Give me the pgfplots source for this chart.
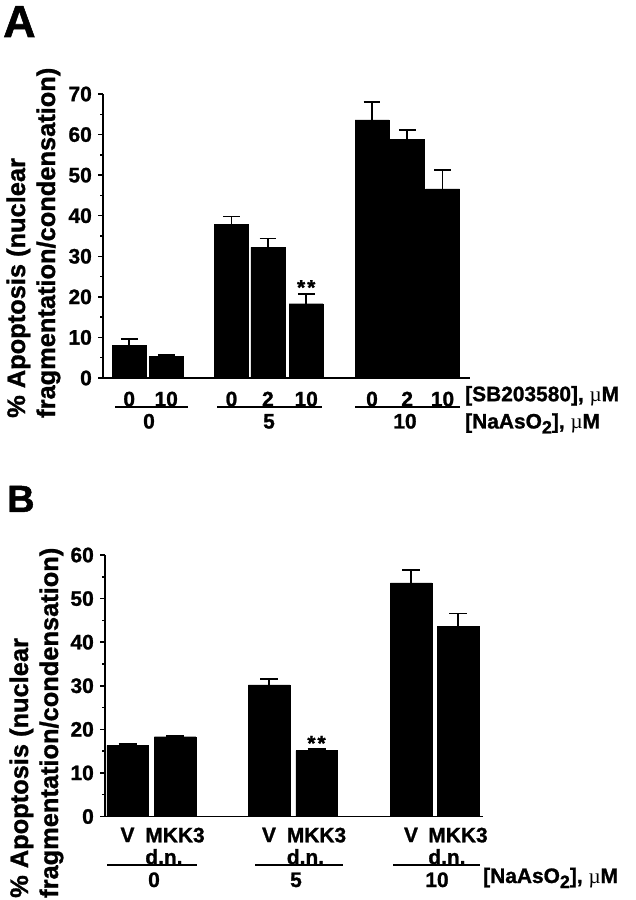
\documentclass[border=0pt]{standalone}
\usepackage{fontspec}
\setmainfont{Liberation Sans}[BoldFeatures={FakeBold=1.2}]
\newfontfamily\mufont{Liberation Serif}
\usepackage{pgfplots}
\pgfplotsset{compat=1.18}

\newcommand{\fs}[1]{\fontsize{#1}{#1}\selectfont}
\newcommand{\um}{{\mufont\mdseries µ}M}
\newcommand{\naaso}{[NaAsO\raisebox{-5bp}{\fs{18}2}], \um}

\tikzset{lbl/.style={font=\bfseries\fs{21}, inner sep=0pt}}
\pgfplotsset{
  apopt/.style={
    scale only axis, axis lines=left, axis line style={line width=1.8bp, -},
    xmin=0, ymin=0, clip=false,
    tick align=outside, ytick pos=left,
    major tick length=5bp, minor tick length=3bp,
    every tick/.style={black, line width=1.5bp},
    minor y tick num=1,
    xtick style={draw=none},
    /pgf/number format/assume math mode=true,
    yticklabel style={font=\bfseries\fs{21}, inner sep=0pt, xshift=-6bp},
    xticklabel style={font=\bfseries\fontsize{21}{22}\selectfont, inner sep=0pt,
      anchor=north, align=left},
  },
}

\begin{document}
\begin{tikzpicture}
\useasboundingbox (0,0) rectangle (636bp,900bp);

% ---- panel A ----
\node[anchor=base west, inner sep=0pt, font=\bfseries\fs{45}] at (3bp,863bp) {A};
\node[rotate=90, anchor=base west, inner sep=0pt, font=\bfseries\fs{25.5}] at (25bp,482bp) {\% Apoptosis (nuclear};
\node[rotate=90, anchor=base west, inner sep=0pt, font=\bfseries\fs{25.5}] at (55bp,482bp) {fragmentation/condensation)};

\begin{axis}[apopt, at={(103bp,522bp)}, anchor=south west,
  width=367bp, height=284bp, xmax=367, ymax=70,
  ytick={0,10,...,70},
  xtick={26.2,63.2,128.5,164.9,203.2,269,304.2,339.5},
  xticklabels={0,10,0,2,10,0,2,10},
  xticklabel style={yshift=-8.5bp}]
\addplot[ybar, bar width=34, fill=black, draw=black,
  error bars/.cd, y dir=plus, y explicit,
  error bar style={line width=1.8bp, black},
  error mark=|, error mark options={mark size=8.3bp, line width=1.8bp, black}]
  coordinates {
  (26.2,8.1) +- (0,1.6)
  (63.2,5.4) +- (0,0.2)
  (128.5,37.9) +- (0,1.9)
  (164.9,32.2) +- (0,2.2)
  (203.2,18.3) +- (0,2.5)
  (269,63.6) +- (0,4.5)
  (304.2,58.9) +- (0,2.2)
  (339.5,46.6) +- (0,4.7)
};
\node[lbl, anchor=base] at ([yshift=-1bp]axis cs:203.2,20.8) {*\kern2bp*};
% group lines and labels
\draw[line width=2.4bp] ([yshift=-29.2bp]axis cs:12,0) -- ([yshift=-29.2bp]axis cs:85,0);
\draw[line width=2.4bp] ([yshift=-29.2bp]axis cs:114,0) -- ([yshift=-29.2bp]axis cs:219,0);
\draw[line width=2.4bp] ([yshift=-29.2bp]axis cs:252,0) -- ([yshift=-29.2bp]axis cs:357,0);
\node[lbl, anchor=base] at ([yshift=-50.5bp]axis cs:46,0) {0};
\node[lbl, anchor=base] at ([yshift=-50.5bp]axis cs:166,0) {5};
\node[lbl, anchor=base] at ([yshift=-50.5bp]axis cs:302,0) {10};
\node[lbl, anchor=base west] at ([yshift=-23.2bp]axis cs:362,0) {[SB203580], \um};
\node[lbl, anchor=base west] at ([yshift=-50.5bp]axis cs:362,0) {\naaso};
\end{axis}

% ---- panel B ----
\node[anchor=base west, inner sep=0pt, font=\bfseries\fs{38}] at (7bp,388bp) {B};
\node[rotate=90, anchor=base west, inner sep=0pt, font=\bfseries\fs{25.5}] at (28bp,2bp) {\% Apoptosis (nuclear};
\node[rotate=90, anchor=base west, inner sep=0pt, font=\bfseries\fs{25.5}] at (58bp,2bp) {fragmentation/condensation)};

\begin{axis}[apopt, at={(105bp,83.5bp)}, anchor=south west,
  width=378bp, height=261.5bp, xmax=378, ymax=60,
  ytick={0,10,...,60},
  xtick={22.5,70,164,211.5,306,353},
  xticklabels={V,{MKK3\\d.n.},V,{MKK3\\d.n.},V,{MKK3\\d.n.}},
  xticklabel style={yshift=-6bp}]
\addplot[ybar, bar width=41.5, fill=black, draw=black,
  error bars/.cd, y dir=plus, y explicit,
  error bar style={line width=1.8bp, black},
  error mark=|, error mark options={mark size=9bp, line width=1.8bp, black}]
  coordinates {
  (22.5,16.3) +- (0,0.4)
  (70,18.3) +- (0,0.1)
  (164,30.2) +- (0,1.3)
  (211.5,15.1) +- (0,0.3)
  (306,53.6) +- (0,2.9)
  (353,43.7) +- (0,2.9)
};
\node[lbl, anchor=base] at ([yshift=-1bp]axis cs:211.5,15.4) {*\kern2bp*};
\draw[line width=2.4bp] ([yshift=-48.5bp]axis cs:2,0) -- ([yshift=-48.5bp]axis cs:92,0);
\draw[line width=2.4bp] ([yshift=-48.5bp]axis cs:150,0) -- ([yshift=-48.5bp]axis cs:238,0);
\draw[line width=2.4bp] ([yshift=-48.5bp]axis cs:288,0) -- ([yshift=-48.5bp]axis cs:375,0);
\node[lbl, anchor=base] at ([yshift=-70.5bp]axis cs:49,0) {0};
\node[lbl, anchor=base] at ([yshift=-70.5bp]axis cs:191,0) {5};
\node[lbl, anchor=base] at ([yshift=-70.5bp]axis cs:332,0) {10};
\node[lbl, anchor=base west] at ([yshift=-66.5bp]axis cs:378,0) {\naaso};
\end{axis}
\end{tikzpicture}
\end{document}
